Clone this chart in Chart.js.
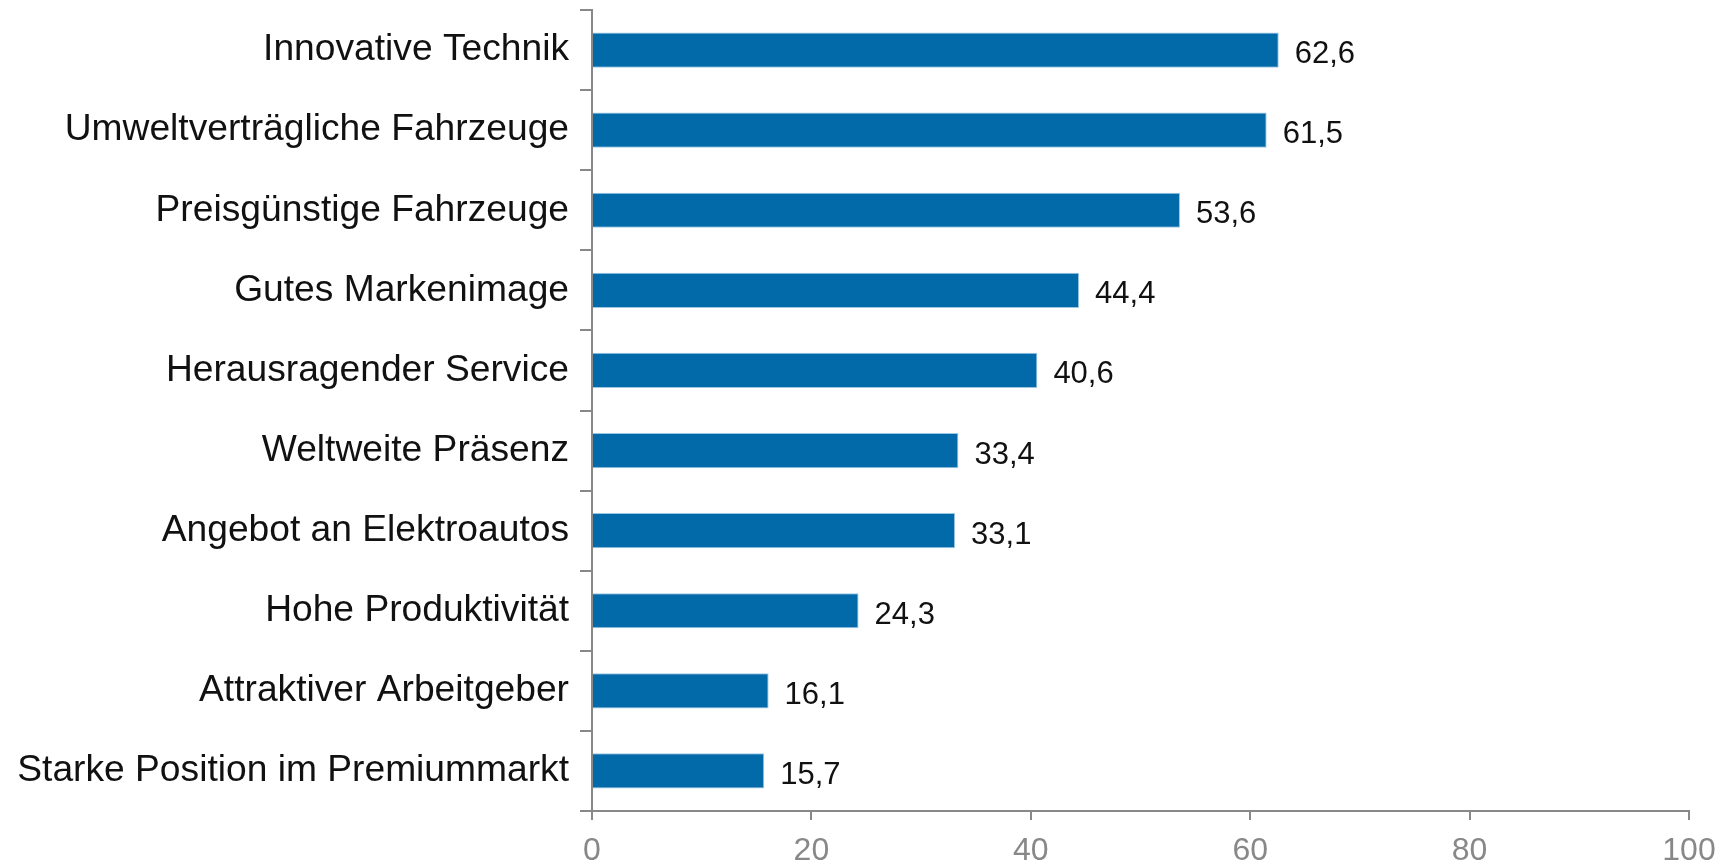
<!DOCTYPE html>
<html>
<head>
<meta charset="utf-8">
<script src="https://cdn.jsdelivr.net/npm/chart.js@4"></script>
<style>
  body { margin: 0; background: #fff; }
  #wrap { width: 1727px; height: 862px; position: relative; }
</style>
</head>
<body>
<div id="wrap"><canvas id="grafico"></canvas></div>
<script>
// data
const categorias = [
  "Innovative Technik",
  "Umweltverträgliche Fahrzeuge",
  "Preisgünstige Fahrzeuge",
  "Gutes Markenimage",
  "Herausragender Service",
  "Weltweite Präsenz",
  "Angebot an Elektroautos",
  "Hohe Produktivität",
  "Attraktiver Arbeitgeber",
  "Starke Position im Premiummarkt"
];
const valores = [62.6, 61.5, 53.6, 44.4, 40.6, 33.4, 33.1, 24.3, 16.1, 15.7];
const xMin = 0;
const xMax = 100;
const xStep = 20;

const FONTE = "'Liberation Sans', Arial, Helvetica, sans-serif";
const CINZA = "#888888";

function formatar(v) {
  return v.toLocaleString("de-DE", { minimumFractionDigits: 1, maximumFractionDigits: 1 });
}

// value labels right of each bar
const rotulos = {
  id: "rotulos",
  afterDatasetsDraw(chart) {
    const ctx = chart.ctx;
    const meta = chart.getDatasetMeta(0);
    ctx.save();
    ctx.font = "31px " + FONTE;
    ctx.fillStyle = "#111111";
    ctx.textAlign = "left";
    ctx.textBaseline = "alphabetic";
    meta.data.forEach((bar, i) => {
      ctx.fillText(formatar(valores[i]), bar.x + 16, bar.y + 13);
    });
    ctx.restore();
  }
};

new Chart(document.getElementById("grafico"), {
  type: "bar",
  data: {
    labels: categorias,
    datasets: [{
      data: valores,
      backgroundColor: "#036aaa",
      borderColor: "#9cc6e2",
      borderWidth: 1,
      borderSkipped: "start",
      barPercentage: 0.44,
      categoryPercentage: 1
    }]
  },
  options: {
    indexAxis: "y",
    responsive: true,
    maintainAspectRatio: false,
    animation: false,
    layout: { padding: { top: 10, right: 38, left: 0, bottom: 0 } },
    plugins: {
      legend: { display: false },
      tooltip: { enabled: false }
    },
    scales: {
      x: {
        min: xMin,
        max: xMax,
        ticks: {
          stepSize: xStep,
          color: CINZA,
          font: { family: FONTE, size: 32 },
          padding: 12
        },
        grid: {
          drawOnChartArea: false,
          drawTicks: true,
          tickLength: 9,
          color: CINZA,
          lineWidth: 2
        },
        border: { color: CINZA, width: 2 },
        afterFit(scale) { scale.height = 51; scale.paddingLeft = 0; scale.paddingRight = 0; }
      },
      y: {
        ticks: {
          color: "#111111",
          font: { family: FONTE, size: 37.2 },
          padding: 11
        },
        grid: {
          offset: true,
          drawOnChartArea: false,
          drawTicks: true,
          tickLength: 12,
          color: CINZA,
          lineWidth: 2
        },
        border: { color: CINZA, width: 2 },
        afterFit(scale) { scale.width = 592; scale.paddingTop = 0; scale.paddingBottom = 0; }
      }
    }
  },
  plugins: [rotulos]
});
</script>
</body>
</html>
